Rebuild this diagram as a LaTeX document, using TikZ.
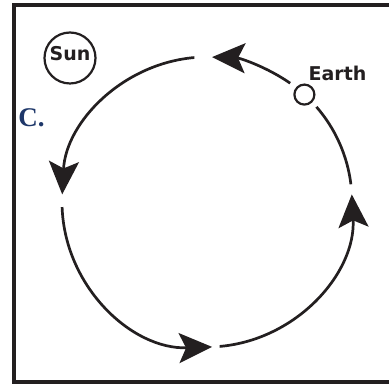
\documentclass[tikz,border=0pt]{standalone}
\usepackage{fontspec}
\usepackage{tikz}
\usetikzlibrary{arrows.meta, positioning, shapes.geometric}
\newfontfamily\bodyfont{DejaVu Sans}
\newfontfamily\partfont{Liberation Serif}
\definecolor{ink}{RGB}{35,31,32}
\definecolor{partblue}{RGB}{30,55,105}

\begin{document}
\begin{tikzpicture}[x=1pt, y=1pt, >={Stealth[length=33pt, width=30pt, inset=7pt]}, ink, line width=2.7pt,
      body/.style={draw, circle, line width=2.2pt, inner sep=0pt},
      lbl/.style={inner sep=0pt, font=\bodyfont\bfseries\fontsize{19}{19}\selectfont}]
      \useasboundingbox (0,0) rectangle (389,385);
      \draw[line width=4pt] (389,380) -- (14,380) -- (14,3) -- (389,3);

      \coordinate (o) at (207,183);
      \node[body, minimum size=51pt, text depth=10pt, lbl] (sun) at (70,327) {Sun};
      \node[body, minimum size=20pt] (earth) at ([shift={(47.8:145pt)}]o) {};
      \node[lbl, above right=5pt and -5pt of earth] (earthlbl) {Earth};
      \node[anchor=base west, inner sep=0pt, text=partblue, font=\partfont\bfseries\fontsize{27}{27}\selectfont] (part) at (17,258) {C.};

      % orbit, counterclockwise
      \draw[->] ([shift={(55:145pt)}]o) arc[start angle=55, end angle=88, radius=145pt];
      \draw[->] ([shift={(95:145pt)}]o) arc[start angle=95, end angle=177, radius=145pt];
      \draw[->] ([shift={(182:145pt)}]o) arc[start angle=182, end angle=272, radius=145pt];
      \draw[->] ([shift={(275:145pt)}]o) arc[start angle=275, end angle=363, radius=145pt];
      \draw ([shift={(7:145pt)}]o) arc[start angle=7, end angle=41, radius=145pt];
    \end{tikzpicture}
\end{document}
